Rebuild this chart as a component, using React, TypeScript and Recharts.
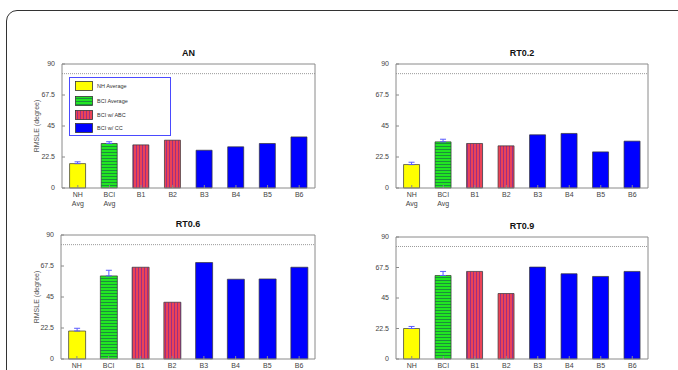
import React from 'react';
import { BarChart, Bar, XAxis, YAxis, Cell, ErrorBar, ReferenceLine } from 'recharts';

const categories = ['NH', 'BCI', 'B1', 'B2', 'B3', 'B4', 'B5', 'B6'];
const topTickLabels = [['NH', 'Avg'], ['BCI', 'Avg'], ['B1'], ['B2'], ['B3'], ['B4'], ['B5'], ['B6']];
const bottomTickLabels = [['NH'], ['BCI'], ['B1'], ['B2'], ['B3'], ['B4'], ['B5'], ['B6']];
const kinds = ['nh', 'bci', 'abc', 'abc', 'cc', 'cc', 'cc', 'cc'];

const anValues = [17.7, 32.3, 31.3, 34.7, 27.4, 29.9, 32.3, 37.1];
const anErrors = [1.3, 1.3, null, null, null, null, null, null];
const rt02Values = [17.0, 33.5, 32.3, 30.6, 38.6, 39.6, 26.2, 34.0];
const rt02Errors = [1.7, 1.9, null, null, null, null, null, null];
const rt06Values = [20.3, 60.3, 66.6, 41.2, 70.0, 57.9, 58.1, 66.6];
const rt06Errors = [2.0, 4.1, null, null, null, null, null, null];
const rt09Values = [22.5, 61.6, 64.6, 48.3, 67.8, 62.9, 60.9, 64.6];
const rt09Errors = [1.5, 3.0, null, null, null, null, null, null];

const yTicks = [0, 22.5, 45, 67.5, 90];
const thresholdValue = 83;
const legendLabels = ['NH Average', 'BCI Average', 'BCI w/ ABC', 'BCI w/ CC'];
const legendKinds = ['nh', 'bci', 'abc', 'cc'];

const FONT = '"Liberation Sans", Arial, Helvetica, sans-serif';
const fills: Record<string, string> = {
  nh: '#ffff00',
  bci: 'url(#hatchGreen)',
  abc: 'url(#hatchRed)',
  cc: '#0000ff',
};

const makeTick = (labels: string[][]) => (props: any) => {
  const { x, y, payload } = props;
  const idx = payload && payload.index != null ? payload.index : 0;
  const lines = labels[idx] || [];
  return (
    <text x={x} y={y} textAnchor="middle" fontSize={7} fill="#444" fontFamily={FONT}>
      {lines.map((l, i) => (
        <tspan key={i} x={x} dy={9}>
          {l}
        </tspan>
      ))}
    </text>
  );
};

type PanelProps = {
  title: string;
  values: number[];
  errors: (number | null)[];
  labels: string[][];
  px: number;
  py: number;
  pw: number;
  ph: number;
};

const axisStroke = { stroke: '#8a8a8a', strokeWidth: 1 };

function Panel({ title, values, errors, labels, px, py, pw, ph }: PanelProps) {
  const data = categories.map((c, i) => ({
    name: c,
    value: values[i],
    err: errors[i] == null ? null : [0, errors[i]],
    kind: kinds[i],
  }));
  const yw = 45;
  const mt = 10;
  const xh = 30;
  const mr = 5;
  return (
    <>
      <div
        style={{
          position: 'absolute',
          left: px,
          width: pw,
          top: py - 16,
          textAlign: 'center',
          fontFamily: FONT,
          fontWeight: 'bold',
          fontSize: 9,
          color: '#111',
          lineHeight: '10px',
        }}
      >
        {title}
      </div>
      <div style={{ position: 'absolute', left: px - yw, top: py - mt }}>
        <BarChart
          width={pw + yw + mr}
          height={ph + mt + xh}
          data={data}
          margin={{ top: mt - 1, right: mr - 1, left: 0, bottom: 0 }}
          barCategoryGap="24%"
        >
          <XAxis
            dataKey="name"
            xAxisId={0}
            height={xh}
            axisLine={axisStroke}
            tickLine={{ stroke: '#8a8a8a' }}
            tickSize={-3}
            tickMargin={3}
            interval={0}
            tick={makeTick(labels)}
          />
          <XAxis
            dataKey="name"
            xAxisId="t"
            orientation="top"
            height={1}
            axisLine={axisStroke}
            tickLine={{ stroke: '#8a8a8a' }}
            tickSize={-3}
            interval={0}
            tick={false}
          />
          <YAxis
            yAxisId={0}
            width={yw}
            domain={[0, 90]}
            ticks={yTicks}
            interval={0}
            axisLine={axisStroke}
            tickLine={{ stroke: '#8a8a8a' }}
            tickSize={-3}
            tickMargin={10}
            tick={{ fontSize: 7, fill: '#444', fontFamily: FONT }}
          />
          <YAxis
            yAxisId="r"
            orientation="right"
            width={1}
            domain={[0, 90]}
            ticks={yTicks}
            interval={0}
            axisLine={axisStroke}
            tickLine={{ stroke: '#8a8a8a' }}
            tickSize={-3}
            tick={false}
          />
          <ReferenceLine
            y={thresholdValue}
            yAxisId={0}
            xAxisId={0}
            stroke="#9a9a9a"
            strokeDasharray="1 1"
            strokeWidth={1}
          />
          <Bar
            dataKey="value"
            xAxisId={0}
            yAxisId={0}
            isAnimationActive={false}
            stroke="#333"
            strokeWidth={0.7}
          >
            {data.map((d, i) => (
              <Cell key={i} fill={fills[d.kind]} />
            ))}
            <ErrorBar
              dataKey="err"
              direction="y"
              width={3}
              stroke="#5a5aff"
              strokeWidth={1}
              isAnimationActive={false}
            />
          </Bar>
        </BarChart>
      </div>
    </>
  );
}

function Swatch({ kind }: { kind: string }) {
  return (
    <svg width={18} height={10} style={{ display: 'block' }}>
      <rect x={0.5} y={0.5} width={17} height={9} fill={fills[kind]} stroke="#333" strokeWidth={0.8} />
    </svg>
  );
}

export default function App() {
  return (
    <div
      style={{
        position: 'absolute',
        left: 0,
        top: 0,
        width: 678,
        height: 370,
        background: '#fff',
        overflow: 'hidden',
      }}
    >
      <svg width={0} height={0} style={{ position: 'absolute' }}>
        <defs>
          <pattern id="hatchGreen" width={4} height={3} patternUnits="userSpaceOnUse">
            <rect width={4} height={3} fill="#22e622" />
            <rect y={2} width={4} height={1} fill="#1b8f3c" />
          </pattern>
          <pattern id="hatchRed" width={3} height={4} patternUnits="userSpaceOnUse">
            <rect width={3} height={4} fill="#ec4356" />
            <rect x={2} width={1} height={4} fill="#9c2f86" />
          </pattern>
        </defs>
      </svg>
      <div
        style={{
          position: 'absolute',
          left: 6,
          top: 10,
          width: 684,
          height: 420,
          border: '1.5px solid #333',
          borderRadius: 11,
          boxSizing: 'border-box',
        }}
      />
      <Panel title="AN" values={anValues} errors={anErrors} labels={topTickLabels} px={62} py={64} pw={253} ph={124} />
      <Panel title="RT0.2" values={rt02Values} errors={rt02Errors} labels={topTickLabels} px={396} py={64} pw={252} ph={124} />
      <Panel title="RT0.6" values={rt06Values} errors={rt06Errors} labels={bottomTickLabels} px={61} py={235} pw={254} ph={124} />
      <Panel title="RT0.9" values={rt09Values} errors={rt09Errors} labels={bottomTickLabels} px={396} py={237} pw={252} ph={122} />
      {[126, 297].map((cy, i) => (
        <div
          key={i}
          style={{
            position: 'absolute',
            left: 36,
            top: cy,
            transform: 'translate(-50%, -50%) rotate(-90deg)',
            whiteSpace: 'nowrap',
            fontFamily: FONT,
            fontSize: 7,
            color: '#555',
          }}
        >
          RMSLE  (degree)
        </div>
      ))}
      <div
        style={{
          position: 'absolute',
          left: 69,
          top: 77,
          width: 102,
          height: 59,
          border: '1.5px solid #4a4aff',
          boxSizing: 'border-box',
          background: '#fff',
        }}
      >
        {legendLabels.map((l, i) => (
          <div
            key={i}
            style={{
              position: 'absolute',
              left: 5,
              top: [4, 18.5, 32.5, 45.5][i] - 1,
              display: 'flex',
              alignItems: 'center',
              fontFamily: FONT,
              fontSize: 5.5,
              color: '#333',
              whiteSpace: 'nowrap',
            }}
          >
            <Swatch kind={legendKinds[i]} />
            <span style={{ marginLeft: 4 }}>{l}</span>
          </div>
        ))}
      </div>
    </div>
  );
}
